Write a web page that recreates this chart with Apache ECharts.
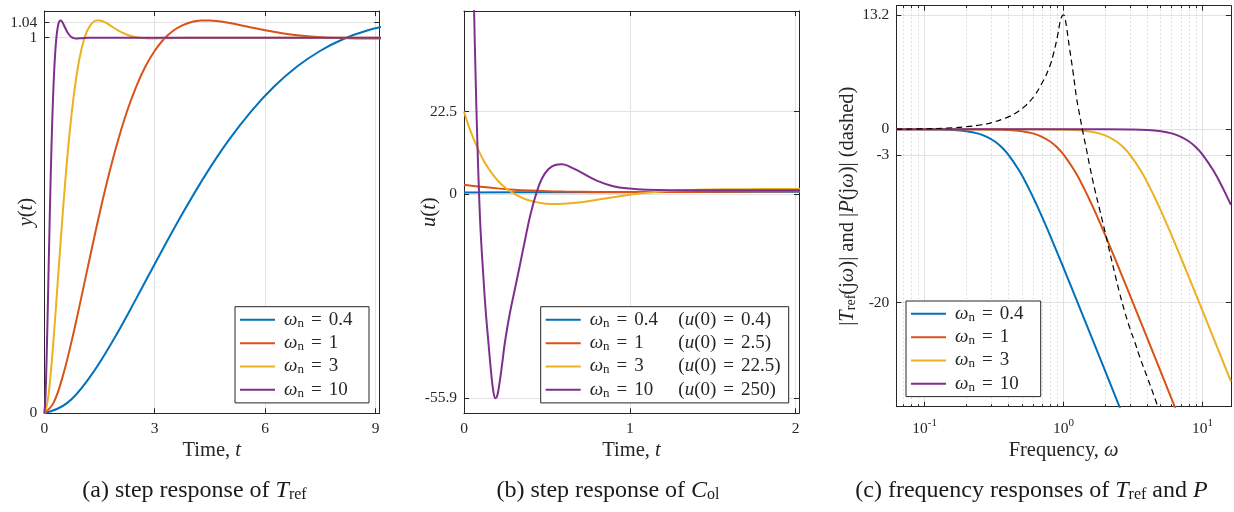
<!DOCTYPE html>
<html>
<head>
<meta charset="utf-8">
<script src="https://cdn.jsdelivr.net/npm/echarts@6.0.0/dist/echarts.min.js"></script>
<style>
html,body{margin:0;padding:0;background:#ffffff;}
#chart{width:1234px;height:512px;}
</style>
</head>
<body>
<div id="chart"></div>
<script>
// ================= DATA =================
const wnLabels = ['0.4', '1', '3', '10'];
const u0Labels = ['0.4', '2.5', '22.5', '250'];

// (a) step response y(t) of T_ref, one array per natural frequency
const yA_wn04 = [[0,0],[0.625,0.0277],[1.25,0.0983],[1.875,0.1954],[2.5,0.3059],[3.125,0.4203],[3.75,0.5312],[4.375,0.6341],[5,0.7257],[5.625,0.8047],[6.25,0.8706],[6.875,0.9238],[7.5,0.9652],[8.125,0.9965],[8.75,1.0184],[9.375,1.0328]];
const yA_wn1 = [[0,0],[0.25,0.0277],[0.5,0.0983],[0.75,0.1954],[1,0.3059],[1.25,0.4203],[1.5,0.5312],[1.75,0.6341],[2,0.7257],[2.25,0.8047],[2.5,0.8706],[2.75,0.9238],[3,0.9652],[3.25,0.9965],[3.5,1.0184],[3.75,1.0328],[4,1.0419],[4.25,1.0455],[4.5,1.0458],[4.75,1.0436],[5,1.0398],[5.5,1.0298],[6,1.0196],[6.5,1.0111],[7,1.0049],[7.5,1.0010],[8,0.9989],[8.5,0.9980],[9,0.9979],[9.5,0.9982]];
const yA_wn3 = [[0,0],[0.0833,0.0277],[0.1667,0.0983],[0.25,0.1954],[0.3333,0.3059],[0.4167,0.4203],[0.5,0.5312],[0.5833,0.6341],[0.6667,0.7257],[0.75,0.8047],[0.8333,0.8706],[0.9167,0.9238],[1.0,0.9652],[1.0833,0.9965],[1.1667,1.0184],[1.25,1.0328],[1.3333,1.0419],[1.4167,1.0455],[1.5,1.0458],[1.5833,1.0436],[1.6667,1.0398],[1.8333,1.0298],[2.0,1.0196],[2.1667,1.0111],[2.3333,1.0049],[2.5,1.0010],[2.6667,0.9989],[2.8333,0.9980],[3.0,0.9979],[3.3333,0.9987],[4,1.0],[9.5,1.0]];
const yA_wn10 = [[0,0],[0.025,0.0277],[0.05,0.0983],[0.075,0.1954],[0.1,0.3059],[0.125,0.4203],[0.15,0.5312],[0.175,0.6341],[0.2,0.7257],[0.225,0.8047],[0.25,0.8706],[0.275,0.9238],[0.3,0.9652],[0.325,0.9965],[0.35,1.0184],[0.375,1.0328],[0.4,1.0419],[0.425,1.0455],[0.45,1.0458],[0.475,1.0436],[0.5,1.0398],[0.55,1.0298],[0.6,1.0196],[0.65,1.0111],[0.7,1.0049],[0.75,1.0010],[0.8,0.9989],[0.85,0.9980],[0.9,0.9979],[1.0,0.9987],[1.2,1.0],[9.5,1.0]];

// (b) step response u(t) of C_ol
const uB_wn04 = [[0,0.4],[0.5,0.42],[1,0.46],[1.5,0.52],[2,0.58],[2.1,0.6]];
const uB_wn1 = [[0,2.5],[0.1,1.95],[0.2,1.5],[0.3,1.15],[0.4,0.9],[0.5,0.72],[0.6,0.62],[0.8,0.52],[1,0.5],[1.25,0.52],[1.5,0.57],[1.75,0.63],[2,0.7],[2.1,0.72]];
const uB_wn3 = [[0,22.5],[0.03,18.3],[0.06,14.8],[0.09,11.7],[0.12,9.0],[0.15,6.8],[0.18,4.9],[0.21,3.3],[0.24,2.0],[0.28,0.7],[0.32,-0.4],[0.38,-1.6],[0.45,-2.4],[0.52,-2.8],[0.6,-2.7],[0.72,-2.2],[0.82,-1.5],[0.92,-0.8],[1.02,-0.1],[1.12,0.4],[1.22,0.8],[1.4,1.1],[1.6,1.25],[1.8,1.3],[2.0,1.3],[2.1,1.3]];
const uB_wn10 = [[0,250],[0.02,165],[0.04,100],[0.05,75],[0.06,52],[0.07,32],[0.08,15],[0.09,1],[0.1,-10],[0.116,-22],[0.13,-31.5],[0.147,-40.5],[0.165,-49.5],[0.178,-54.3],[0.19,-55.9],[0.2,-55.3],[0.215,-51.5],[0.23,-46.5],[0.247,-40.5],[0.275,-33],[0.307,-26],[0.337,-19.5],[0.367,-12.8],[0.4,-5.8],[0.435,0],[0.47,4.2],[0.51,6.8],[0.55,7.9],[0.59,8.1],[0.63,7.6],[0.7,6],[0.8,3.6],[0.9,2.1],[1,1.45],[1.1,1.15],[1.25,1.02],[1.5,1.0],[2.1,1.0]];

// (c) magnitude responses (dB) versus frequency
const magC_wn04 = [[0.0625,0],[0.08,0],[0.12,-0.02],[0.16,-0.08],[0.2,-0.22],[0.24,-0.47],[0.28,-0.87],[0.32,-1.41],[0.36,-2.1],[0.4,-2.92],[0.48,-4.79],[0.56,-6.78],[0.64,-8.72],[0.72,-10.56],[0.8,-12.26],[1.0,-16.0],[1.2,-19.12],[1.6,-24.09],[2.0,-27.96],[2.4,-31.13],[2.8,-33.8]];
const magC_wn1 = [[0.0625,0],[0.2,0],[0.3,-0.02],[0.4,-0.08],[0.5,-0.22],[0.6,-0.47],[0.7,-0.87],[0.8,-1.41],[0.9,-2.1],[1,-2.92],[1.2,-4.79],[1.4,-6.78],[1.6,-8.72],[1.8,-10.56],[2,-12.26],[2.5,-16.0],[3,-19.12],[4,-24.09],[5,-27.96],[6,-31.13],[7,-33.8]];
const magC_wn3 = [[0.0625,0],[0.6,0],[0.9,-0.02],[1.2,-0.08],[1.5,-0.22],[1.8,-0.47],[2.1,-0.87],[2.4,-1.41],[2.7,-2.1],[3,-2.92],[3.6,-4.79],[4.2,-6.78],[4.8,-8.72],[5.4,-10.56],[6,-12.26],[7.5,-16.0],[9,-19.12],[12,-24.09],[15,-27.96],[16,-29.07]];
const magC_wn10 = [[0.0625,0],[2,0],[3,-0.02],[4,-0.08],[5,-0.22],[6,-0.47],[7,-0.87],[8,-1.41],[9,-2.1],[10,-2.92],[12,-4.79],[14,-6.78],[16,-8.72]];
const magC_plant = [[0.0625,0.02],[0.1,0.06],[0.145,0.15],[0.2,0.3],[0.25,0.5],[0.3,0.75],[0.39,1.35],[0.45,1.85],[0.513,2.5],[0.605,3.7],[0.714,5.6],[0.8,7.4],[0.842,8.6],[0.9,10.6],[0.941,12.3],[0.97,13.0],[1.0,13.2],[1.03,12.6],[1.05,11.8],[1.1,9.5],[1.17,6.6],[1.24,3.6],[1.31,1.5],[1.38,-0.4],[1.46,-2.3],[1.54,-4.2],[1.68,-7.0],[1.82,-9.3],[2.0,-12.0],[2.15,-14.2],[2.35,-16.8],[2.53,-18.9],[2.75,-21.0],[2.99,-22.9],[3.25,-24.5],[3.52,-26.2],[4.0,-28.6],[4.51,-30.9],[5.0,-33.0]];

// tick values
const ticksA_x = [0, 3, 6, 9];
const ticksA_y = [0, 1, 1.04];
const labelsA_yLow = [0, 1];
const labelsA_yHigh = [1.04];
const ticksB_x = [0, 1, 2];
const ticksB_y = [-55.9, 0, 22.5];
const ticksC_x = [0.1, 1, 10];
const ticksC_xMinor = [0.07,0.08,0.09,0.2,0.3,0.4,0.5,0.6,0.7,0.8,0.9,2,3,4,5,6,7,8,9];
const ticksC_y = [-20, -3, 0, 13.2];

// ================= STYLE / LAYOUT =================
const FONT = '"Liberation Serif", "Times New Roman", serif';
const TXT = '#262626';
const AXC = '#262626';
const GRIDC = '#e2e2e2';
const COLORS = ['#0072BD', '#D95319', '#EDB120', '#7E2F8E'];

function rich(fs, sfs, shift, useFill) {
  const c = useFill ? {fill: '#1a1a1a'} : {color: TXT};
  return {
    r: Object.assign({fontFamily: FONT, fontSize: fs}, c),
    i: Object.assign({fontFamily: FONT, fontSize: fs, fontStyle: 'italic'}, c),
    s: Object.assign({fontFamily: FONT, fontSize: sfs, lineHeight: sfs, padding: [shift * 2, 0, 0, 0]}, c)
  };
}
const numFmt = v => String(v);
const logFmt = v => '{b|10}{p|' + Math.round(Math.log10(v)) + '}';
const logRich = {
  b: {fontFamily: FONT, fontSize: 15.5, color: TXT},
  p: {fontFamily: FONT, fontSize: 11, color: TXT, lineHeight: 11, padding: [0, 0, 12, 0]}
};

function mainAxis(gi, pos, type, min, max, ticks, labels, name, gap, fmt, lrich, margin) {
  return {
    type: type, gridIndex: gi, position: pos, min: min, max: max,
    name: name, nameLocation: 'middle', nameGap: gap, nameMoveOverlap: false,
    nameTextStyle: {rich: rich(20.5, 14, 4)},
    axisLine: {show: true, onZero: false, lineStyle: {color: AXC, width: 1}},
    axisTick: {show: true, inside: true, length: 5, customValues: ticks, lineStyle: {color: AXC, width: 1}},
    axisLabel: {show: true, customValues: labels, margin: margin, hideOverlap: false,
      showMinLabel: true, showMaxLabel: true,
      fontFamily: FONT, fontSize: 15.5, color: TXT, formatter: fmt, rich: lrich},
    splitLine: {show: true, lineStyle: {color: GRIDC, width: 1}},
    minorTick: {show: false}, minorSplitLine: {show: false}
  };
}
function labelOnlyAxis(gi, pos, min, max, labels, margin) {
  return {
    type: 'value', gridIndex: gi, position: pos, min: min, max: max,
    axisLine: {show: false, onZero: false}, axisTick: {show: false},
    axisLabel: {show: true, customValues: labels, margin: margin, hideOverlap: false,
      showMinLabel: true, showMaxLabel: true,
      fontFamily: FONT, fontSize: 15.5, color: TXT, formatter: numFmt},
    splitLine: {show: false}
  };
}
function mirrorAxis(gi, pos, type, min, max, ticks, len, showLine, dottedSplit) {
  return {
    type: type, gridIndex: gi, position: pos, min: min, max: max,
    axisLine: {show: showLine, onZero: false, lineStyle: {color: AXC, width: 1}},
    axisTick: {show: true, inside: true, length: len, customValues: ticks, lineStyle: {color: AXC, width: 1}},
    axisLabel: {show: false},
    splitLine: dottedSplit ? {show: true, lineStyle: {color: '#c4c4c4', width: 1, type: [1, 3]}} : {show: false}
  };
}
function line(name, data, color, xi, yi, dashed) {
  return {
    name: name, type: 'line', data: data, xAxisIndex: xi, yAxisIndex: yi,
    showSymbol: false, symbol: 'none', smooth: 0.4, clip: true,
    silent: true, emphasis: {disabled: true},
    lineStyle: {color: color, width: dashed ? 1.2 : 2, type: dashed ? [6, 4] : 'solid'},
    itemStyle: {color: color}, z: dashed ? 4 : 3
  };
}
function legend(names, left, top, lh, padTop, textW, fmt) {
  const rs = rich(19, 13, 3.5);
  rs.w = {fontFamily: FONT, fontSize: 19, fontStyle: 'italic', color: TXT, padding: [0, 0, 0, 4]};
  rs.e = {fontFamily: FONT, fontSize: 19, color: TXT, padding: [0, 7, 0, 7]};
  rs.t = {fontFamily: FONT, fontSize: 19, color: TXT};
  rs.tw = {fontFamily: FONT, fontSize: 19, color: TXT, width: 44, align: 'left'};
  return {
    show: true, orient: 'vertical', left: left, top: top, data: names,
    icon: 'rect', itemWidth: 35, itemHeight: 2, itemGap: 0,
    padding: [padTop, 6, padTop, 5], borderColor: AXC, borderWidth: 1, backgroundColor: '#ffffff',
    selectedMode: false, itemStyle: {borderWidth: 0},
    formatter: fmt,
    textStyle: {fontFamily: FONT, fontSize: 19, color: TXT, lineHeight: lh, width: textW, rich: rs}
  };
}

const namesA = ['a0', 'a1', 'a2', 'a3'];
const namesB = ['b0', 'b1', 'b2', 'b3'];
const namesC = ['c0', 'c1', 'c2', 'c3'];
const fmtWn = n => '{w|ω}{s|n}{e|=}{t|' + wnLabels[+n[1]] + '}';
const fmtWnU = n => '{w|ω}{s|n}{e|=}{tw|' + wnLabels[+n[1]] + '}{r|(}{i|u}{r|(0)}{e|=}{r|' + u0Labels[+n[1]] + ')}';

const capRich = rich(24, 16, 3.5, true);

const option = {
  animation: false,
  backgroundColor: '#ffffff',
  grid: [
    {left: 44.3, top: 11, width: 335, height: 402.3, containLabel: false, outerBoundsMode: 'none'},
    {left: 464, top: 11, width: 335, height: 402.3, containLabel: false, outerBoundsMode: 'none'},
    {left: 896.3, top: 5.7, width: 334.6, height: 401, containLabel: false, outerBoundsMode: 'none'}
  ],
  xAxis: [
    mainAxis(0, 'bottom', 'value', 0, 9.1, ticksA_x, ticksA_x, '{r|Time, }{i|t}', 27, numFmt, undefined, 8),
    mirrorAxis(0, 'top', 'value', 0, 9.1, ticksA_x, 5, true, false),
    mainAxis(1, 'bottom', 'value', 0, 2.02, ticksB_x, ticksB_x, '{r|Time, }{i|t}', 27, numFmt, undefined, 8),
    mirrorAxis(1, 'top', 'value', 0, 2.02, ticksB_x, 5, true, false),
    mainAxis(2, 'bottom', 'log', 0.0625, 16, ticksC_x, ticksC_x, '{r|Frequency, }{i|ω}', 33, logFmt, logRich, 14),
    mirrorAxis(2, 'top', 'log', 0.0625, 16, ticksC_x, 5, true, false),
    mirrorAxis(2, 'bottom', 'log', 0.0625, 16, ticksC_xMinor, 2.5, false, true),
    mirrorAxis(2, 'top', 'log', 0.0625, 16, ticksC_xMinor, 2.5, false, false)
  ],
  yAxis: [
    mainAxis(0, 'left', 'value', 0, 1.071, ticksA_y, labelsA_yLow, '{i|y}{r|(}{i|t}{r|)}', 7, numFmt, undefined, 7),
    mirrorAxis(0, 'right', 'value', 0, 1.071, ticksA_y, 5, true, false),
    mainAxis(1, 'left', 'value', -60, 50, ticksB_y, ticksB_y, '{i|u}{r|(}{i|t}{r|)}', 24, numFmt, undefined, 7),
    mirrorAxis(1, 'right', 'value', -60, 50, ticksB_y, 5, true, false),
    mainAxis(2, 'left', 'value', -32, 14.26, ticksC_y, ticksC_y, '{r||}{i|T}{s|ref}{r|(j}{i|ω}{r|)| and |}{i|P}{r|(j}{i|ω}{r|)| (dashed)}', 38, numFmt, undefined, 7),
    mirrorAxis(2, 'right', 'value', -32, 14.26, ticksC_y, 5, true, false),
    labelOnlyAxis(0, 'left', 0, 1.071, labelsA_yHigh, 7)
  ],
  legend: [
    legend(namesA, 235, 306.7, 23.3, 1.5, 83, fmtWn),
    legend(namesB, 540.7, 306.7, 23.3, 1.5, 197, fmtWnU),
    legend(namesC, 906, 301, 23.3, 1.2, 83.7, fmtWn)
  ],
  graphic: [
    {type: 'text', x: 194.5, y: 491, silent: true, style: {text: '{r|(a) step response of }{i|T}{s|ref}', rich: capRich, align: 'center', verticalAlign: 'middle', fill: '#1a1a1a'}},
    {type: 'text', x: 608, y: 491, silent: true, style: {text: '{r|(b) step response of }{i|C}{s|ol}', rich: capRich, align: 'center', verticalAlign: 'middle', fill: '#1a1a1a'}},
    {type: 'text', x: 1031.5, y: 491, silent: true, style: {text: '{r|(c) frequency responses of }{i|T}{s|ref}{r| and }{i|P}', rich: capRich, align: 'center', verticalAlign: 'middle', fill: '#1a1a1a'}}
  ],
  series: [
    line('a0', yA_wn04, COLORS[0], 0, 0),
    line('a1', yA_wn1, COLORS[1], 0, 0),
    line('a2', yA_wn3, COLORS[2], 0, 0),
    line('a3', yA_wn10, COLORS[3], 0, 0),
    line('b0', uB_wn04, COLORS[0], 2, 2),
    line('b1', uB_wn1, COLORS[1], 2, 2),
    line('b2', uB_wn3, COLORS[2], 2, 2),
    line('b3', uB_wn10, COLORS[3], 2, 2),
    line('c0', magC_wn04, COLORS[0], 4, 4),
    line('c1', magC_wn1, COLORS[1], 4, 4),
    line('c2', magC_wn3, COLORS[2], 4, 4),
    line('c3', magC_wn10, COLORS[3], 4, 4),
    line('cP', magC_plant, '#000000', 4, 4, true)
  ]
};

const chart = echarts.init(document.getElementById('chart'), null, {renderer: 'canvas'});
chart.setOption(option);
</script>
</body>
</html>
